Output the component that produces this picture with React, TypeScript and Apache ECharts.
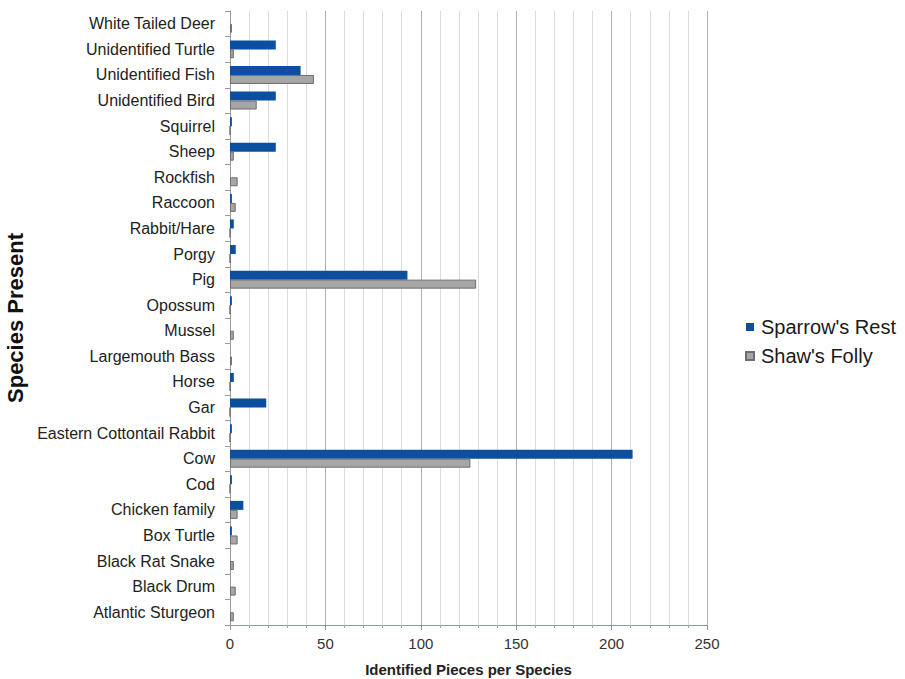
import React, { useEffect, useRef } from "react";
import * as echarts from "echarts";

const categories = [
  "Atlantic Sturgeon",
  "Black Drum",
  "Black Rat Snake",
  "Box Turtle",
  "Chicken family",
  "Cod",
  "Cow",
  "Eastern Cottontail Rabbit",
  "Gar",
  "Horse",
  "Largemouth Bass",
  "Mussel",
  "Opossum",
  "Pig",
  "Porgy",
  "Rabbit/Hare",
  "Raccoon",
  "Rockfish",
  "Sheep",
  "Squirrel",
  "Unidentified Bird",
  "Unidentified Fish",
  "Unidentified Turtle",
  "White Tailed Deer",
];

const sparrowsRest = [0, 0, 0, 1, 7, 1, 211, 1, 19, 2, 0, 0, 1, 93, 3, 2, 1, 0, 24, 1, 24, 37, 24, 0];
const shawsFolly = [2, 3, 2, 4, 4, 0, 126, 0, 0, 0, 1, 2, 0, 129, 0, 0, 3, 4, 2, 0, 14, 44, 2, 1];

const xTicks = [0, 50, 100, 150, 200, 250];

export default function App() {
  const ref = useRef<HTMLDivElement>(null);
  useEffect(() => {
    if (!ref.current) return;
    const chart = echarts.init(ref.current, null, { renderer: "svg" });
    const font = "Liberation Sans, Arial, sans-serif";
    chart.setOption({
      animation: false,
      backgroundColor: "#ffffff",
      textStyle: { fontFamily: font },
      legend: {
        data: ["Sparrow's Rest", "Shaw's Folly"],
        orient: "vertical",
        left: 740,
        top: 312,
        itemWidth: 8,
        itemHeight: 8,
        itemGap: 9,
        icon: "rect",
        textStyle: { fontFamily: font, fontSize: 20, color: "#1a1a1a", padding: [0, 0, 0, 2] },
      },
      grid: { left: 230, right: 198, top: 11, bottom: 54, containLabel: false, outerBoundsMode: "none" },
      xAxis: {
        type: "value",
        min: xTicks[0],
        max: xTicks[xTicks.length - 1],
        interval: 50,
        name: "Identified Pieces per Species",
        nameLocation: "middle",
        nameGap: 37,
        nameTextStyle: { fontFamily: font, fontSize: 15, fontWeight: "bold", color: "#222" },
        axisLine: { show: true, lineStyle: { color: "#8a9a9a", width: 1 } },
        axisTick: { show: true, length: 5, lineStyle: { color: "#8a9a9a" } },
        minorTick: { show: true, splitNumber: 5, length: 3, lineStyle: { color: "#9aa" } },
        axisLabel: { fontFamily: font, fontSize: 15, color: "#333", margin: 11 },
        splitLine: { show: true, lineStyle: { color: "#a8b0b0", width: 1 } },
        minorSplitLine: { show: true, lineStyle: { color: "#dcdcdc", width: 1 } },
      },
      yAxis: {
        type: "category",
        data: categories,
        name: "Species Present",
        nameLocation: "middle",
        nameRotate: 90,
        nameGap: 200,
        nameTextStyle: { fontFamily: font, fontSize: 22, fontWeight: "bold", color: "#111" },
        axisLine: { show: true, lineStyle: { color: "#9a9a9a", width: 1 } },
        axisTick: { show: true, length: 5, alignWithLabel: false, lineStyle: { color: "#9a9a9a" } },
        axisLabel: { fontFamily: font, fontSize: 16, color: "#222", margin: 15 },
        splitLine: { show: false },
      },
      series: [
        {
          name: "Sparrow's Rest",
          type: "bar",
          data: sparrowsRest,
          barWidth: 9,
          barGap: "0%",
          itemStyle: { color: "#0b4f9e" },
        },
        {
          name: "Shaw's Folly",
          type: "bar",
          data: shawsFolly,
          barWidth: 9,
          barGap: "0%",
          itemStyle: { color: "#a6a6a6", borderColor: "#6e6e6e", borderWidth: 1 },
        },
      ],
    });
    return () => chart.dispose();
  }, []);
  return (
    <div
      ref={ref}
      style={{ position: "absolute", left: 0, top: 0, width: 905, height: 679 }}
    />
  );
}
